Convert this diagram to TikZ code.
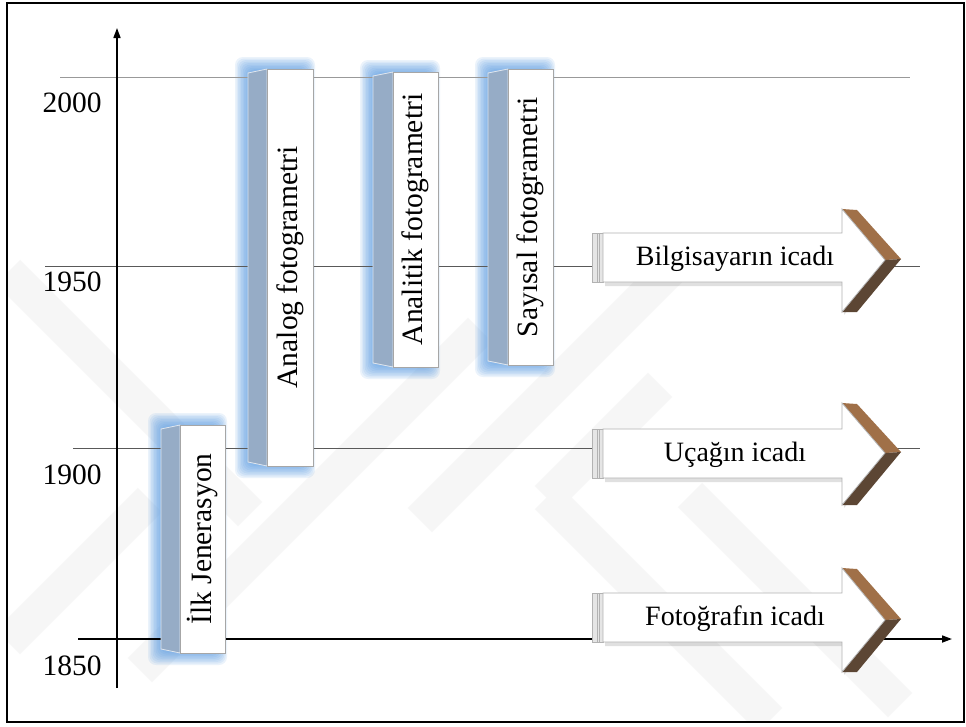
\documentclass[tikz,border=0pt]{standalone}
\usepackage{fontspec}
\setmainfont{Liberation Serif}
\usetikzlibrary{arrows.meta}
\definecolor{sidec}{RGB}{150,172,198}
\definecolor{glowc}{RGB}{80,150,225}
\definecolor{brownL}{RGB}{160,112,72}
\definecolor{brownD}{RGB}{92,70,52}
\definecolor{wmc}{RGB}{246,246,246}
\tikzset{
  yearlbl/.style={font=\fontsize{29.5}{30}\selectfont, inner sep=0pt},
  bartext/.style={font=\fontsize{29.5}{30}\selectfont, inner sep=0pt, draw=gray!70, line width=0.8pt, fill=white, rotate=90},
  arrtext/.style={font=\fontsize{28}{30}\selectfont, inner sep=0pt},
  axisline/.style={line width=1.6pt, -{Triangle[length=10pt,width=7pt]}},
  gridthin/.style={line width=1pt, draw=black!65},
  gridthick/.style={line width=1.6pt, draw=black!40},
  wmband/.style={line width=34pt, draw=wmc},
  arrbody/.style={fill=white, draw=gray!60, line width=0.8pt, line join=miter},
  glowlayer/.style={fill=glowc, opacity=0.11, rounded corners=8pt},
}
% #1 sideL, #2 frontR, #3 top, #4 bottom
\newcommand\myglow[4]{%
  \foreach \k in {1,...,10}{%
    \fill[glowlayer] ({#1+2-1.5*\k},{#3+3-1.5*\k}) rectangle ({#2-10+1.2*\k},{#4-3+1.5*\k});}%
}
% #1 name, #2 sideL, #3 frontL, #4 frontR, #5 top, #6 bottom, #7 text
\newcommand\mypillar[7]{%
  \fill[sidec] (#2,{#5+4}) -- (#3,#5) -- (#3,#6) -- (#2,{#6-4}) -- cycle;
  \draw[white!70!sidec, line width=0.8pt] (#2,{#5+4}) -- (#3,#5) -- (#3,#6) -- (#2,{#6-4}) -- cycle;
  \node[bartext, minimum width={#6-#5}, minimum height={#4-#3}] (#1) at ({(#3+#4)/2},{(#5+#6)/2}) {#7};
}
% #1 name, #2 bodyTop, #3 bodyBot, #4 headTop, #5 headBot, #6 tipY, #7 text
\newcommand\myarrow[7]{%
  \fill[black, opacity=0.12] (605,{#2+3}) -- (844,{#2+3}) -- (844,{#4+3}) -- (887,{#6+3}) -- (844,{#5+3}) -- (844,{#3+4}) -- (605,{#3+4}) -- cycle;
  \fill[gray!20] (592,#2) rectangle (603,#3);
  \draw[gray!60, line width=0.8pt] (592,#2) rectangle (603,#3);
  \draw[gray!60, line width=0.8pt] (597,#2) -- (597,#3) (599,#2) -- (599,#3);
  \fill[brownL] (842,#4) -- (857,{#4+1}) -- (901,{#6-1}) -- (885,#6) -- cycle;
  \fill[brownD] (885,#6) -- (901,{#6-1}) -- (857,#5) -- (842,#5) -- cycle;
  \path[arrbody] (603,#2) -- (842,#2) -- (842,#4) -- (885,#6) -- (842,#5) -- (842,#3) -- (603,#3) -- cycle;
  \node[arrtext] (#1) at (735,{(#2+#3)/2+1}) {#7};
}
\begin{document}
\begin{tikzpicture}[x=1pt,y=-1pt]
\useasboundingbox (0,0) rectangle (966,726);
\fill[white] (0,0) rectangle (966,726);
% watermark
\begin{scope}
  \clip (8,4) rectangle (963,721);
  \draw[wmband] (8,272) -- (250,514);
  \draw[wmband] (140,670) -- (480,330);
  \draw[wmband] (420,520) -- (680,260);
  \draw[wmband] (547,497) -- (770,720);
  \draw[wmband] (690,495) -- (900,705);
  \draw[wmband] (547,498) -- (660,385);
  \draw[wmband] (8,642) -- (150,500);
\end{scope}
% glows
\myglow{248}{313}{69}{466}
\myglow{373}{438}{72}{367}
\myglow{488}{553}{69}{365}
\myglow{161}{225}{425}{653}
% grid lines
\coordinate (g2a) at (60,77.5);  \coordinate (g2b) at (910,77.5);
\coordinate (g1a) at (45,266);   \coordinate (g1b) at (920,266);
\coordinate (g0a) at (73,448);   \coordinate (g0b) at (920,448);
\draw[gridthick] (g2a) -- (g2b);
\draw[gridthin] (g1a) -- (g1b);
\draw[gridthin] (g0a) -- (g0b);
% axes
\coordinate (yb) at (117,688); \coordinate (yt) at (117,28);
\coordinate (xl) at (78,639);  \coordinate (xr) at (952,639);
\draw[axisline] (yb) -- (yt);
\draw[axisline] (xl) -- (xr);
% year labels
\node[yearlbl] (y2000) at (72,102.5) {2000};
\node[yearlbl] (y1950) at (72,282) {1950};
\node[yearlbl] (y1900) at (72,475) {1900};
\node[yearlbl] (y1850) at (72,666) {1850};
% pillars
\mypillar{analog}{248}{267}{313}{69}{466}{Analog fotogrametri}
\mypillar{analitik}{373}{393}{438}{72}{367}{Analitik fotogrametri}
\mypillar{sayisal}{488}{508}{553}{69}{365}{Sayısal fotogrametri}
\mypillar{ilk}{161}{180}{225}{425}{653}{İlk Jenerasyon}
% event arrows
\myarrow{bilg}{233}{282}{209}{312}{260}{Bilgisayarın icadı}
\myarrow{ucak}{429}{478}{403}{505}{453}{Uçağın icadı}
\myarrow{foto}{593}{642}{568}{672}{620}{Fotoğrafın icadı}
% frame
\draw[line width=2.5pt] (7,3) rectangle (964,722);
\end{tikzpicture}
\end{document}
